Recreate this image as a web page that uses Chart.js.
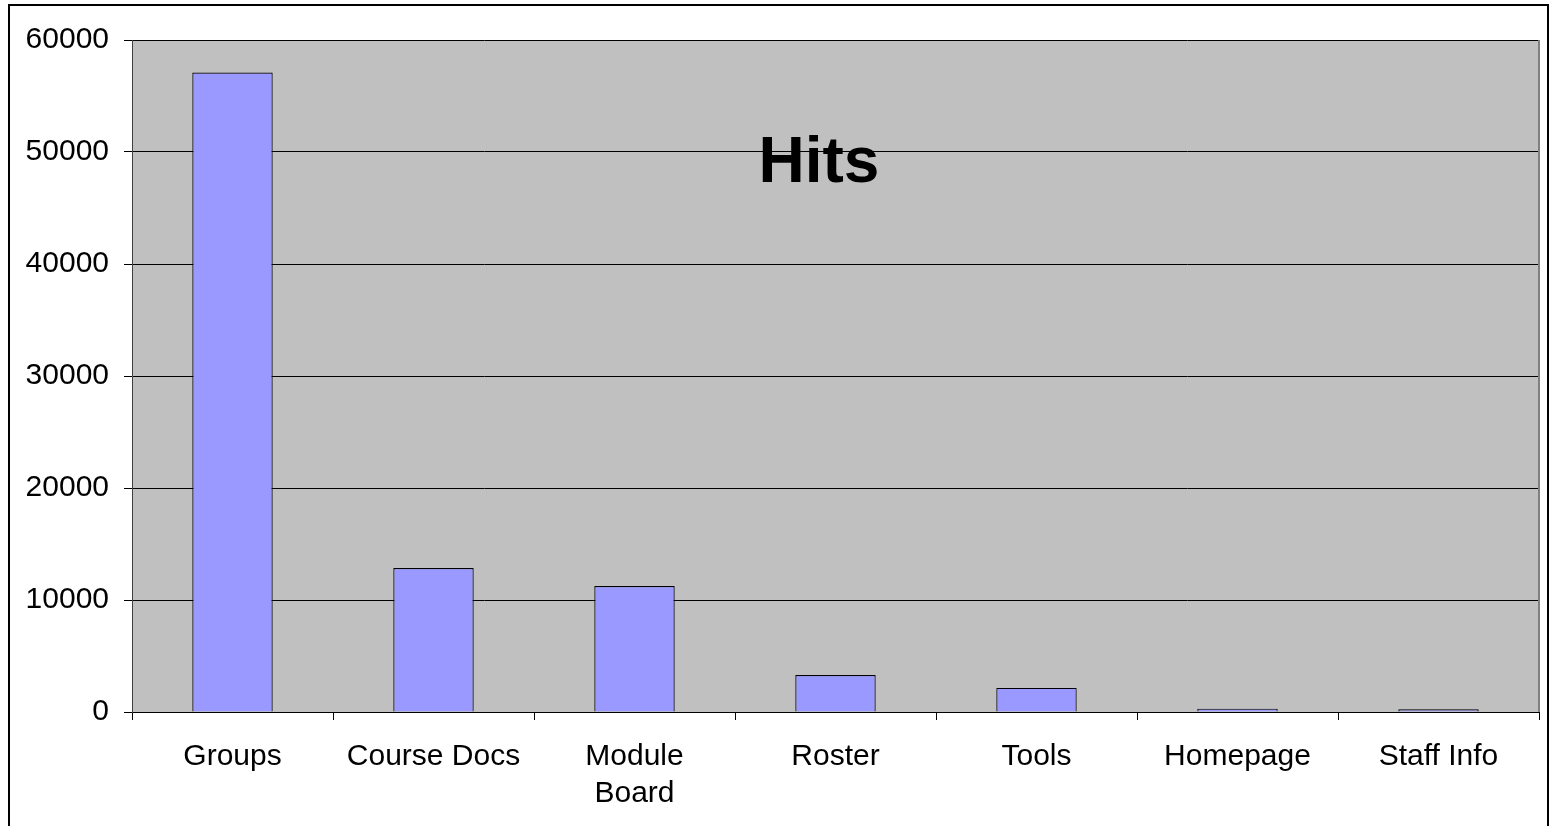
<!DOCTYPE html>
<html>
<head>
<meta charset="utf-8">
<title>Hits</title>
<script src="https://cdn.jsdelivr.net/npm/chart.js@4/dist/chart.umd.min.js"></script>
<style>
  html, body { margin: 0; padding: 0; background: #ffffff; }
  #wrap { width: 1550px; height: 826px; position: relative; }
  canvas { display: block; }
</style>
</head>
<body>
<div id="wrap"><canvas id="chart" width="1550" height="826"></canvas></div>
<script>
// Page hits per course area
const categories = ['Groups', 'Course Docs', ['Module', 'Board'], 'Roster', 'Tools', 'Homepage', 'Staff Info'];
const hits = [57100, 12850, 11250, 3300, 2150, 300, 240];
const yTicks = [0, 10000, 20000, 30000, 40000, 50000, 60000];
const chartTitle = 'Hits';

const FONT = '"Liberation Sans", Arial, Helvetica, sans-serif';

// Grey plot background, plot outline, outer frame and the in-plot title
const decorations = {
  id: 'decorations',
  beforeDraw(chart) {
    const { ctx, chartArea: a } = chart;
    ctx.save();
    ctx.fillStyle = '#ffffff';
    ctx.fillRect(0, 0, chart.width, chart.height);
    ctx.fillStyle = '#c0c0c0';
    ctx.fillRect(a.left, a.top, a.right - a.left, a.bottom - a.top);
    ctx.restore();
  },
  beforeDatasetsDraw(chart) {
    const { ctx, chartArea: a } = chart;
    ctx.save();
    ctx.strokeStyle = '#808080';
    ctx.lineWidth = 2;
    ctx.beginPath();
    ctx.moveTo(a.right, a.top);
    ctx.lineTo(a.right, a.bottom);
    ctx.stroke();
    ctx.restore();
  },
  afterDraw(chart) {
    const { ctx } = chart;
    ctx.save();
    ctx.fillStyle = '#000000';
    ctx.font = 'bold 64px ' + FONT;
    ctx.textAlign = 'center';
    ctx.textBaseline = 'alphabetic';
    ctx.fillText(chartTitle, 819, 182);
    ctx.strokeStyle = '#000000';
    ctx.lineWidth = 2;
    ctx.strokeRect(9, 5, 1539, 900);
    ctx.restore();
  }
};

new Chart(document.getElementById('chart'), {
  type: 'bar',
  data: {
    labels: categories,
    datasets: [{
      data: hits,
      backgroundColor: '#9999ff',
      borderColor: '#000000',
      borderWidth: 1.2,
      barPercentage: 0.4,
      categoryPercentage: 1.0
    }]
  },
  options: {
    responsive: false,
    animation: false,
    layout: { padding: { top: 40, right: 11, left: 0, bottom: 0 } },
    plugins: {
      legend: { display: false },
      title: { display: false },
      tooltip: { enabled: false }
    },
    scales: {
      x: {
        offset: true,
        grid: {
          offset: true,
          drawOnChartArea: false,
          drawTicks: true,
          tickLength: 8,
          color: '#000000',
          lineWidth: 1
        },
        border: { display: true, color: '#000000', width: 1 },
        ticks: {
          color: '#000000',
          font: { family: FONT, size: 30, lineHeight: 1.24 },
          padding: 18,
          maxRotation: 0,
          autoSkip: false
        },
        afterFit(scale) { scale.height = 114; }
      },
      y: {
        min: 0,
        max: 60000,
        afterBuildTicks(scale) { scale.ticks = yTicks.map(v => ({ value: v })); },
        grid: {
          color: '#000000',
          lineWidth: 1,
          drawTicks: true,
          tickLength: 8
        },
        border: { display: true, color: '#404040', width: 1 },
        ticks: {
          color: '#000000',
          font: { family: FONT, size: 30 },
          padding: 15,
          callback: v => String(v)
        },
        afterFit(scale) { scale.width = 132; }
      }
    }
  },
  plugins: [decorations]
});
</script>
</body>
</html>
